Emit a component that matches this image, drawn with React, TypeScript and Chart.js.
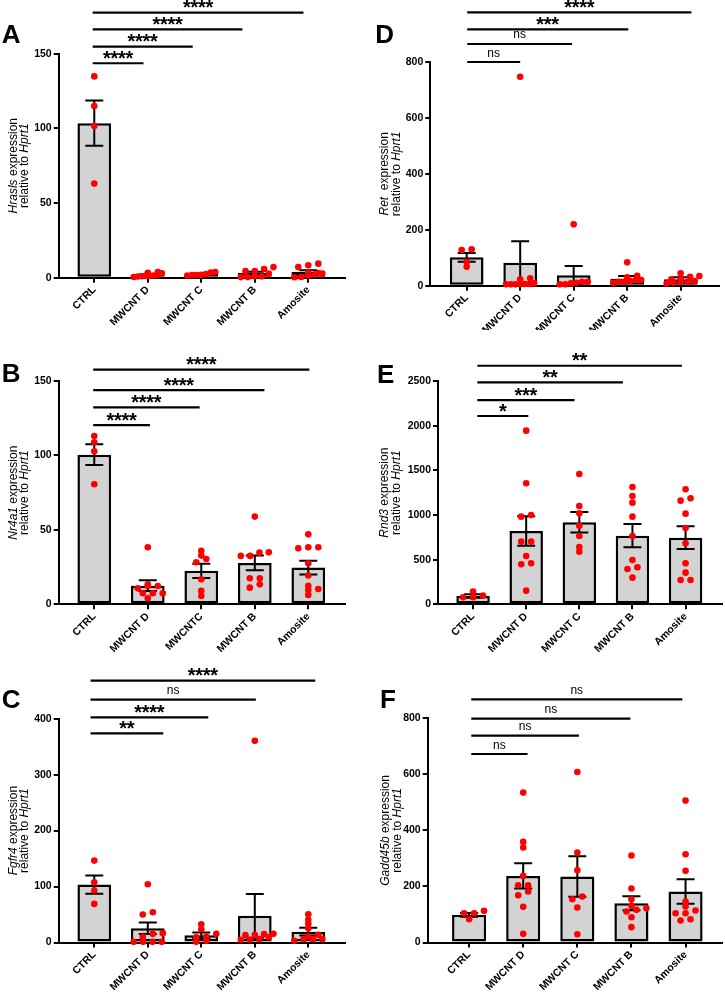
import React, { useEffect, useRef } from "react";
import { Chart, registerables } from "chart.js";

Chart.register(...registerables);

const FONT = "'Liberation Sans', Arial, Helvetica, sans-serif";

// ---------- categories ----------
const groups = ["CTRL", "MWCNT D", "MWCNT C", "MWCNT B", "Amosite"];
const groupsB = ["CTRL", "MWCNT D", "MWCNTC", "MWCNT B", "Amosite"];

// ---------- Panel A : Hrasls ----------
const meansA = [103.5, 1.8, 2.4, 3.2, 3.9];
const semA = [15.2, 0.4, 0.4, 0.8, 1.1];
const pointsA = [
  [134.8, 115, 101.6, 63],
  [1.2, 3.8, 2.0, 3.2, 0.5, 3.0, 1.0, 0.8, 1.5, 1.2],
  [1.5, 3.5, 2.0, 3.8, 1.8, 2.5, 1.8],
  [0.4, 2.7, 5.8, 4.5, 0.9, 7.1, 0.9, 4.5, 0.4],
  [1.5, 3.1, 8.3, 7.1, 9.4, 3.1, 0.3, 2.7, 0.5, 2.2],
];
const sigA = ["****", "****", "****", "****"];
const levelsA = [143.6, 154.7, 166.3, 177.5];
const endsA = [0.92, 1.84, 2.77, 3.91];

// ---------- Panel B : Nr4a1 ----------
const meansB = [100.5, 12.5, 22.5, 27.8, 24.7];
const semB = [7, 3.6, 4.8, 4.9, 4.6];
const pointsB = [
  [113, 108.8, 102.8, 80.6],
  [13.4, 4, 10.7, 7.4, 38.3, 12.3, 7.4, 12.3, 7.4],
  [36, 30.4, 32.7, 28.2, 16.8, 9, 5.6],
  [58.9, 34.7, 32.5, 32.5, 34.9, 17.5, 17.5, 11.2, 13.4],
  [47, 37.6, 38.3, 38.3, 27.5, 19.3, 12.5, 10.3, 9.6, 6.3],
];
const sigB = ["****", "****", "****", "****"];
const levelsB = [120.4, 132.3, 143.9, 157.6];
const endsB = [1.04, 1.97, 3.18, 4.02];

// ---------- Panel C : Fgfr4 ----------
const meansC = [103.5, 25.5, 13, 47.6, 19.3];
const semC = [16.4, 10.4, 4.8, 39.3, 6.9];
const pointsC = [
  [146.4, 107.7, 92.9, 69],
  [104.2, 54.2, 50, 1.2, 10, 16.7, 15.5, 1.2, 1.2, 1.2],
  [15.5, 23.8, 32.7, 1.2, 10.7, 3, 9.5],
  [360.7, 14.9, 15.5, 4.8, 6, 13.1, 13.7, 4.8, 9.5],
  [50.6, 33.3, 40.5, 25.6, 6, 10.7, 6, 6, 13.7, 3],
];
const sigC = ["**", "****", "ns", "****"];
const levelsC = [373.9, 402.5, 434, 467.9];
const endsC = [1.29, 2.13, 3.02, 4.13];

// ---------- Panel D : Ret ----------
const meansD = [101.3, 82.3, 37, 25, 22.7];
const semD = [16, 76.3, 33.3, 9.6, 7.7];
const pointsD = [
  [127.6, 130, 85.8, 68],
  [747.5, 26.2, 22.7, 6, 8.3, 6, 4.8, 4.8, 6, 4.8],
  [219.4, 4.8, 14.3, 8.3, 14.3, 4.8, 10.7],
  [83.5, 29.8, 35.8, 14.3, 14.3, 20.3, 16.7, 20.3, 10.7],
  [44.1, 14.3, 22.7, 16.7, 22.7, 32.2, 34.6, 14.3, 8.3, 10.7],
];
const sigD = ["ns", "ns", "***", "****"];
const levelsD = [800, 864.4, 917, 977.8];
const endsD = [1.0, 1.97, 3.02, 4.2];

// ---------- Panel E : Rnd3 ----------
const meansE = [93.3, 820.9, 918, 768.7, 746.3];
const semE = [20.5, 164, 115.5, 130.6, 126.9];
const pointsE = [
  [78.4, 97, 141.8, 78.4],
  [1944, 1354.5, 981.3, 1000, 701.5, 701.5, 541, 459, 447.8, 153],
  [1459, 1100.7, 1018.7, 880.6, 764.9, 589.6, 641.8],
  [1313.4, 1212.7, 1138, 981.3, 765, 496.3, 414.2, 395.5, 298.5],
  [1287.3, 1186.6, 1160.4, 1014.9, 854.5, 682.8, 459, 354.5, 272.4, 272.4],
];
const sigE = ["*", "***", "**", "**"];
const levelsE = [2108, 2287, 2485, 2671];
const endsE = [1.04, 1.91, 2.82, 3.93];

// ---------- Panel F : Gadd45b ----------
const meansF = [98.7, 237.7, 235.4, 140.3, 181.9];
const semF = [6.5, 45.2, 72.5, 25, 43.4];
const pointsF = [
  [112.9, 104.6, 104.6, 83.2],
  [534.9, 359, 338.8, 237.7, 204.5, 204.5, 168.8, 181.9, 127.2, 30.9],
  [608.6, 321, 258, 154.5, 164, 124.8, 29.7],
  [310.3, 192.6, 154.5, 122.4, 116.5, 130.8, 110.5, 90.3, 54.7],
  [506.4, 315, 255.6, 146.2, 114.1, 128.4, 104.6, 104.6, 78.5, 83.2],
];
const sigF = ["ns", "ns", "ns", "ns"];
const levelsF = [672.6, 737.9, 798.6, 867.8];
const endsF = [1.08, 2.03, 2.98, 3.94];

type Seg = [string, boolean];
type Panel = {
  letter: string;
  labels: string[];
  means: number[];
  sem: number[];
  points: number[][];
  yMax: number;
  yStep: number;
  sig: string[];
  levels: number[];
  ends: number[];
  start: number;
  title1: Seg[];
  title2: Seg[];
  box: { left: number; top: number; w: number; h: number };
  area: { left: number; top: number; bottom: number; right: number };
  xMin: number;
  xMax: number;
  titleX: [number, number];
  letterPos: [number, number];
};

const rel: Seg[] = [["relative to ", false], ["Hprt1", true]];

const panels: Panel[] = [
  {
    letter: "A", labels: groups, means: meansA, sem: semA, points: pointsA, yMax: 150, yStep: 50,
    sig: sigA, levels: levelsA, ends: endsA, start: -0.03,
    title1: [["Hrasls", true], [" expression", false]], title2: rel,
    box: { left: 0, top: 0, w: 362, h: 330 },
    area: { left: 58.7, top: 53.7, bottom: 277.7, right: 345 },
    xMin: -0.665, xMax: 4.686, titleX: [13.3, 25], letterPos: [1.7, 43.3],
  },
  {
    letter: "B", labels: groupsB, means: meansB, sem: semB, points: pointsB, yMax: 150, yStep: 50,
    sig: sigB, levels: levelsB, ends: endsB, start: -0.02,
    title1: [["Nr4a1", true], [" expression", false]], title2: rel,
    box: { left: 0, top: 330, w: 362, h: 330 },
    area: { left: 58.7, top: 51, bottom: 274.3, right: 345 },
    xMin: -0.665, xMax: 4.686, titleX: [13.3, 25], letterPos: [1.7, 52.3],
  },
  {
    letter: "C", labels: groups, means: meansC, sem: semC, points: pointsC, yMax: 400, yStep: 100,
    sig: sigC, levels: levelsC, ends: endsC, start: -0.07,
    title1: [["Fgfr4", true], [" expression", false]], title2: rel,
    box: { left: 0, top: 660, w: 362, h: 332 },
    area: { left: 58.7, top: 58.7, bottom: 282.5, right: 345 },
    xMin: -0.665, xMax: 4.686, titleX: [13.3, 25], letterPos: [1.7, 48],
  },
  {
    letter: "D", labels: groups, means: meansD, sem: semD, points: pointsD, yMax: 800, yStep: 200,
    sig: sigD, levels: levelsD, ends: endsD, start: 0.01,
    title1: [["Ret", true], ["  expression", false]], title2: rel,
    box: { left: 362, top: 0, w: 363, h: 330 },
    area: { left: 68.3, top: 62, bottom: 285.7, right: 357 },
    xMin: -0.68, xMax: 4.716, titleX: [22.3, 35], letterPos: [13.3, 43.3],
  },
  {
    letter: "E", labels: groups, means: meansE, sem: semE, points: pointsE, yMax: 2500, yStep: 500,
    sig: sigE, levels: levelsE, ends: endsE, start: 0.08,
    title1: [["Rnd3", true], [" expression", false]], title2: rel,
    box: { left: 362, top: 330, w: 363, h: 330 },
    area: { left: 76, top: 51, bottom: 274.3, right: 361.7 },
    xMin: -0.66, xMax: 4.68, titleX: [22.5, 34.3], letterPos: [15, 53.3],
  },
  {
    letter: "F", labels: groups, means: meansF, sem: semF, points: pointsF, yMax: 800, yStep: 200,
    sig: sigF, levels: levelsF, ends: endsF, start: 0.04,
    title1: [["Gadd45b", true], [" expression", false]], title2: rel,
    box: { left: 362, top: 660, w: 363, h: 332 },
    area: { left: 65.7, top: 58.3, bottom: 282.5, right: 361 },
    xMin: -0.765, xMax: 4.668, titleX: [24, 35.5], letterPos: [18, 48],
  },
];

// Beeswarm-like horizontal spread (GraphPad style rows), returns offsets in x units
function swarm(vals: number[], pxY: number, pxX: number): number[] {
  const order = vals.map((_, i) => i).sort((a, b) => vals[a] - vals[b]);
  const rows: number[][] = [];
  for (const i of order) {
    const last = rows[rows.length - 1];
    if (last && (vals[i] - vals[last[0]]) * pxY <= 4) last.push(i);
    else rows.push([i]);
  }
  const off = vals.map(() => 0);
  let prevY = -1e9;
  let prevShift = 0;
  for (const row of rows) {
    const n = row.length;
    const step = n > 1 ? Math.min(10, 28 / (n - 1)) : 0;
    const yPx = vals[row[0]] * pxY;
    let shift = 0;
    if (yPx - prevY < 7 && prevShift === 0) shift = n > 1 ? step / 2 : 0;
    row.forEach((i, k) => {
      off[i] = ((k - (n - 1) / 2) * step + shift) / pxX;
    });
    prevY = yPx;
    prevShift = shift;
  }
  return off;
}

function drawRich(ctx: CanvasRenderingContext2D, segs: Seg[], size: number) {
  const fontOf = (it: boolean) => `${it ? "italic " : ""}normal ${size}px ${FONT}`;
  let total = 0;
  const widths = segs.map(([t, it]) => {
    ctx.font = fontOf(it);
    const w = ctx.measureText(t).width;
    total += w;
    return w;
  });
  let x = -total / 2;
  segs.forEach(([t, it], i) => {
    ctx.font = fontOf(it);
    ctx.fillText(t, x, 0);
    x += widths[i];
  });
}

function makePlugin(p: Panel) {
  return {
    id: "panel" + p.letter,
    afterDatasetDraw(chart: any, args: any) {
      if (args.index !== 0) return;
      const ctx: CanvasRenderingContext2D = chart.ctx;
      const xs = chart.scales.x;
      const ys = chart.scales.y;
      const cap = 18;
      ctx.save();
      ctx.strokeStyle = "#000";
      ctx.lineWidth = 2;
      p.means.forEach((m, i) => {
        const cx = xs.getPixelForValue(i);
        const t = ys.getPixelForValue(m + p.sem[i]);
        const b = ys.getPixelForValue(Math.max(0, m - p.sem[i]));
        ctx.beginPath();
        ctx.moveTo(cx, t);
        ctx.lineTo(cx, b);
        ctx.moveTo(cx - cap / 2, t);
        ctx.lineTo(cx + cap / 2, t);
        ctx.moveTo(cx - cap / 2, b);
        ctx.lineTo(cx + cap / 2, b);
        ctx.stroke();
      });
      ctx.restore();
    },
    afterDraw(chart: any) {
      const ctx: CanvasRenderingContext2D = chart.ctx;
      const xs = chart.scales.x;
      const ys = chart.scales.y;
      const area = chart.chartArea;
      ctx.save();
      ctx.fillStyle = "#000";
      ctx.strokeStyle = "#000";
      // significance brackets
      p.levels.forEach((lv, k) => {
        const y = ys.getPixelForValue(lv);
        const x1 = xs.getPixelForValue(p.start);
        const x2 = xs.getPixelForValue(p.ends[k]);
        ctx.lineWidth = 2.2;
        ctx.beginPath();
        ctx.moveTo(x1, y);
        ctx.lineTo(x2, y);
        ctx.stroke();
        const cx = (x1 + x2) / 2;
        const lab = p.sig[k];
        if (lab === "ns") {
          ctx.font = `normal 12px ${FONT}`;
          ctx.textAlign = "center";
          ctx.textBaseline = "alphabetic";
          ctx.fillText("ns", cx, y - 5.5);
        } else {
          ctx.font = `bold 20px ${FONT}`;
          ctx.textAlign = "center";
          ctx.textBaseline = "alphabetic";
          const m = ctx.measureText("*");
          const a = m.actualBoundingBoxAscent;
          const d = m.actualBoundingBoxDescent;
          const base = y - 8.3 - (d - a) / 2;
          const n = lab.length;
          const sp = 7.5;
          for (let i = 0; i < n; i++) {
            ctx.fillText("*", cx + (i - (n - 1) / 2) * sp, base);
          }
        }
      });
      // y-axis title (two lines, mixed italic)
      const cy = (area.top + area.bottom) / 2;
      ctx.textAlign = "left";
      ctx.textBaseline = "middle";
      [p.title1, p.title2].forEach((segs, li) => {
        ctx.save();
        ctx.translate(p.titleX[li], cy);
        ctx.rotate(-Math.PI / 2);
        drawRich(ctx, segs, 12);
        ctx.restore();
      });
      // panel letter
      ctx.font = `bold 26px ${FONT}`;
      ctx.textAlign = "left";
      ctx.textBaseline = "alphabetic";
      ctx.fillText(p.letter, p.letterPos[0], p.letterPos[1]);
      ctx.restore();
    },
  };
}

function PanelChart({ p }: { p: Panel }) {
  const ref = useRef<HTMLCanvasElement | null>(null);
  useEffect(() => {
    if (!ref.current) return;
    const pxY = (p.area.bottom - p.area.top) / p.yMax;
    const pxX = (p.area.right - p.area.left) / (p.xMax - p.xMin);
    const pts: { x: number; y: number }[] = [];
    p.points.forEach((vals, gi) => {
      const off = swarm(vals, pxY, pxX);
      vals.forEach((v, j) => pts.push({ x: gi + off[j], y: v }));
    });
    const tickFont = { family: FONT, size: 10.5, weight: "bold" as const };
    const gridCfg = {
      display: true,
      drawOnChartArea: false,
      drawTicks: true,
      tickLength: 5,
      color: "#000",
      lineWidth: 2,
      offset: false,
    };
    const chart = new Chart(ref.current, {
      type: "bar",
      data: {
        datasets: [
          {
            type: "bar",
            data: p.means.map((m, i) => ({ x: i, y: m })),
            backgroundColor: "#D3D3D3",
            borderColor: "#000",
            borderWidth: 2.5,
            borderSkipped: false,
            barPercentage: 0.63,
            categoryPercentage: 1,
            order: 2,
          } as any,
          {
            type: "scatter",
            data: pts,
            backgroundColor: "#FF0000",
            borderWidth: 0,
            pointRadius: 3.3,
            pointHoverRadius: 3.3,
            order: 1,
            clip: false,
          } as any,
        ],
      },
      options: {
        responsive: false,
        animation: false,
        devicePixelRatio: 1,
        layout: {
          padding: { left: 0, top: p.area.top, right: p.box.w - p.area.right, bottom: 0 },
        },
        plugins: { legend: { display: false }, tooltip: { enabled: false } },
        scales: {
          x: {
            type: "linear",
            min: p.xMin,
            max: p.xMax,
            offset: false,
            grid: gridCfg,
            border: { display: true, color: "#000", width: 2 },
            ticks: {
              minRotation: 45,
              maxRotation: 45,
              autoSkip: false,
              padding: 1,
              color: "#000",
              font: tickFont,
              callback: (v: any) => p.labels[Math.round(Number(v))] ?? "",
            },
            afterBuildTicks: (s: any) => {
              s.ticks = p.labels.map((_, i) => ({ value: i }));
            },
            afterFit: (s: any) => {
              s.height = p.box.h - p.area.bottom;
            },
          } as any,
          y: {
            type: "linear",
            min: 0,
            max: p.yMax,
            grid: gridCfg,
            border: { display: true, color: "#000", width: 2 },
            ticks: {
              stepSize: p.yStep,
              padding: 2,
              color: "#000",
              font: tickFont,
              callback: (v: any) => String(v),
            },
            afterFit: (s: any) => {
              s.width = p.area.left;
            },
          } as any,
        },
      },
      plugins: [makePlugin(p) as any],
    });
    return () => chart.destroy();
  }, [p]);
  return (
    <canvas
      ref={ref}
      width={p.box.w}
      height={p.box.h}
      style={{
        position: "absolute",
        left: p.box.left,
        top: p.box.top,
        width: p.box.w,
        height: p.box.h,
      }}
    />
  );
}

export default function App() {
  return (
    <div
      style={{
        position: "absolute",
        left: 0,
        top: 0,
        width: 725,
        height: 992,
        background: "#fff",
        overflow: "hidden",
      }}
    >
      {panels.map((p) => (
        <PanelChart key={p.letter} p={p} />
      ))}
    </div>
  );
}
